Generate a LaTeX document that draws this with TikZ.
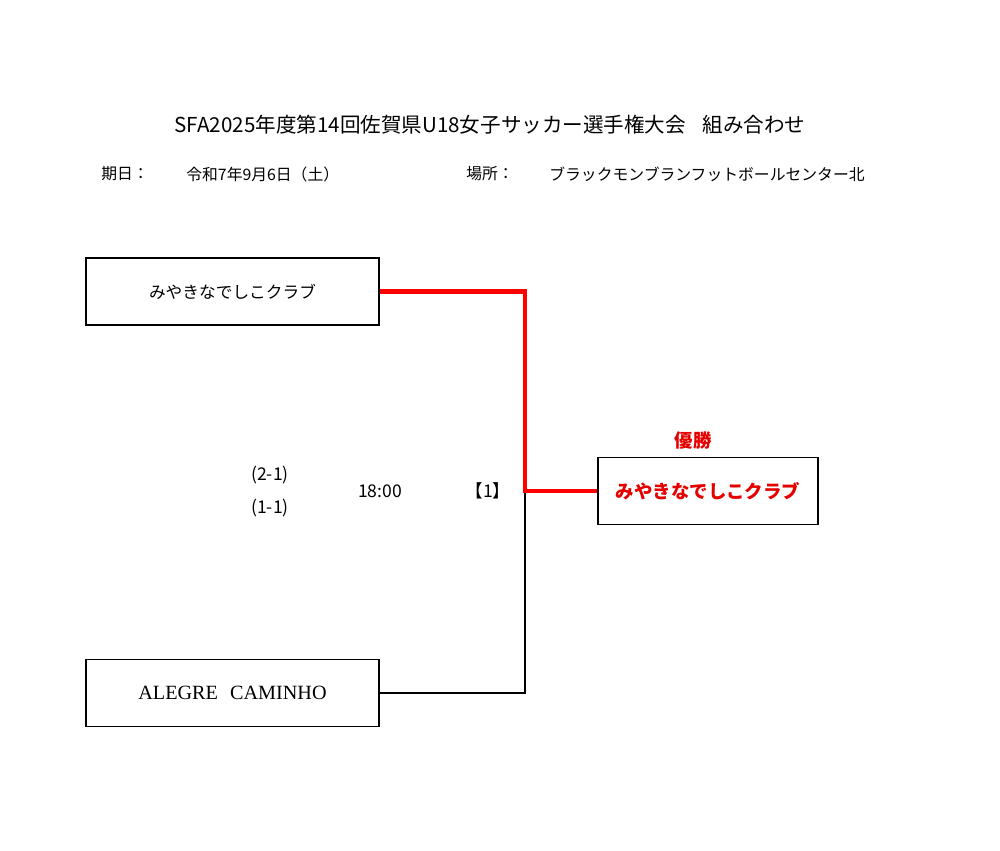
\documentclass[tikz,border=0pt]{standalone}
\usepackage{fontspec}
\setmainfont{Noto Sans CJK JP}
\newfontfamily\latinserif{Liberation Serif}
\usetikzlibrary{calc}
\tikzset{%
  team/.style  = {shape=rectangle, draw, line width=1.1pt,%
                  minimum width=5.86cm, minimum height=1.34cm,%
                  font=\fontsize{9.5}{11}\selectfont},%
  champ/.style = {team, minimum width=4.4cm, text=red!90!black,%
                  font=\fontsize{10.5}{12}\selectfont\bfseries},%
  info/.style  = {inner sep=0pt, font=\fontsize{9}{11}\selectfont},%
  score/.style = {inner sep=0pt, font=\fontsize{10}{12}\selectfont},%
  win/.style   = {draw=red, line width=2.4pt, line join=miter},%
  lose/.style  = {draw=black, line width=0.8pt}%
}

\begin{document}
\begin{tikzpicture}
[x=0.02cm,y=-0.02cm]
	\useasboundingbox (0,0) rectangle (1000,850);
	% heading
	\node [inner sep=0pt,font=\fontsize{11.7}{14}\selectfont] (title) at (490,125)
		{SFA2025年度第14回佐賀県U18女子サッカー選手権大会\hspace{0.8em}組み合わせ};
	\node [info,anchor=west] (datelbl) at (101,174) {期日：};
	\node [info,anchor=west] (date) at (186,174) {令和7年9月6日（土）};
	\node [info,anchor=west] (placelbl) at (466,174) {場所：};
	\node [info,anchor=west] (place) at (549,174) {ブラックモンブランフットボールセンター北};
	% teams
	\node [team] (miyaki) at (232.5,291.5) {みやきなでしこクラブ};
	\node [team,font=\fontsize{11.5}{13}\selectfont\latinserif] (alegre) at (232.5,693) {ALEGRE\hspace{0.6em}CAMINHO};
	\node [champ] (winner) at (708,491) {みやきなでしこクラブ};
	\node [inner sep=0pt,text=red!90!black,font=\fontsize{10.5}{12}\selectfont\bfseries] (yusho) at (693,441) {優勝};
	% match
	\node [score] (s1) at (270,475) {(2-1)};
	\node [score] (s2) at (270,508) {(1-1)};
	\node [score] (time) at (380,491) {18:00};
	\node [score] (game) at (488,491) {【1】};
	\coordinate (m1) at (525,491);
	\draw [lose] (alegre.east) -| (m1);
	\draw [win] (miyaki.east) -| (m1) -- (winner.west);
\end{tikzpicture}
\end{document}
